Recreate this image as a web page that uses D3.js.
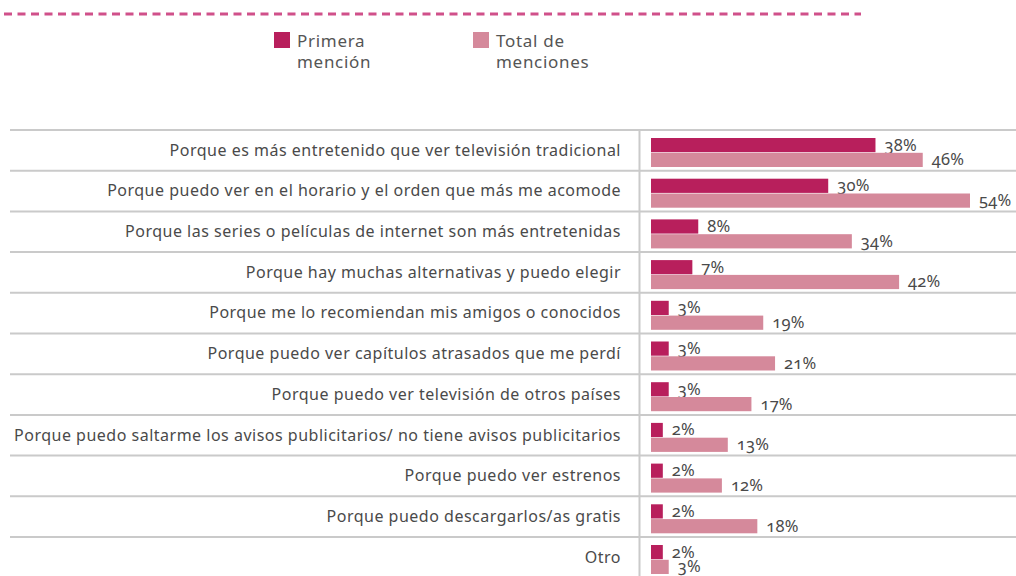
<!DOCTYPE html>
<html><head><meta charset="utf-8">
<script src="https://cdn.jsdelivr.net/npm/d3@7"></script>
<style>body{margin:0;background:#fff;}svg{display:block;}</style>
</head><body>
<script>
const categories = [
  "Porque es más entretenido que ver televisión tradicional",
  "Porque puedo ver en el horario y el orden que más me acomode",
  "Porque las series o películas de internet son más entretenidas",
  "Porque hay muchas alternativas y puedo elegir",
  "Porque me lo recomiendan mis amigos o conocidos",
  "Porque puedo ver capítulos atrasados que me perdí",
  "Porque puedo ver televisión de otros países",
  "Porque puedo saltarme los avisos publicitarios/ no tiene avisos publicitarios",
  "Porque puedo ver estrenos",
  "Porque puedo descargarlos/as gratis",
  "Otro"
];
const primeraMencion = [38, 30, 8, 7, 3, 3, 3, 2, 2, 2, 2];
const totalMenciones = [46, 54, 34, 42, 19, 21, 17, 13, 12, 18, 3];
const seriesNames = ["Primera mención", "Total de menciones"];
const legendLines = [["Primera", "mención"], ["Total de", "menciones"]];

const W = 1016, H = 576;
const colors = ["#b81f5c", "#d5899b"];
const svg = d3.select("body").append("svg").attr("width", W).attr("height", H);

// dashed top line
svg.append("line").attr("x1", 4).attr("x2", 861).attr("y1", 14).attr("y2", 14)
  .attr("stroke", "#d0508a").attr("stroke-width", 3).attr("stroke-dasharray", "8,5.5");

// legend
const legX = [274, 473];
seriesNames.forEach((s, i) => {
  const g = svg.append("g").attr("transform", `translate(${legX[i]},32)`);
  g.append("rect").attr("width", 16).attr("height", 16).attr("fill", colors[i]);
  const t = g.append("text").attr("x", 23).attr("y", 15)
    .attr("font-family", "Noto Sans").attr("font-size", 17).attr("letter-spacing", 0.7).attr("fill", "#555");
  legendLines[i].forEach((l, j) => t.append("tspan").attr("x", 23).attr("dy", j === 0 ? 0 : 21).text(l));
});

const y = d3.scaleBand().domain(categories).range([130, 577.7]);
const x = d3.scaleLinear().domain([0, 54]).range([651, 970]);
const inner = d3.scaleBand().domain(seriesNames).range([8, 37]).paddingInner(0.04);

// grid lines
const grid = svg.append("g").attr("stroke", "#cacaca").attr("stroke-width", 2);
categories.forEach(c => {
  grid.append("line").attr("x1", 10).attr("x2", W).attr("y1", y(c)).attr("y2", y(c));
});
grid.append("line").attr("x1", 639.5).attr("x2", 639.5).attr("y1", 130).attr("y2", H);

// category labels
svg.append("g").selectAll("text").data(categories).join("text")
  .attr("x", 621).attr("y", d => y(d) + y.bandwidth() / 2 + 1)
  .attr("text-anchor", "end").attr("dominant-baseline", "middle")
  .attr("font-family", "Noto Sans").attr("font-size", 16).attr("letter-spacing", 0.5).attr("fill", "#4a4a4a")
  .text(d => d);

const rows = categories.map((c, i) => ({ c, vals: [primeraMencion[i], totalMenciones[i]] }));
const rg = svg.append("g").selectAll("g").data(rows).join("g")
  .attr("transform", d => `translate(0,${y(d.c)})`);
seriesNames.forEach((s, si) => {
  rg.append("rect").attr("x", x(0)).attr("y", inner(s))
    .attr("width", d => x(d.vals[si]) - x(0)).attr("height", inner.bandwidth())
    .attr("fill", colors[si]);
  rg.append("text").attr("x", d => x(d.vals[si]) + 9)
    .attr("y", inner(s) + inner.bandwidth() / 2 + 1)
    .attr("dominant-baseline", "middle")
    .style("font-variant-numeric", "oldstyle-nums")
    .attr("font-family", "Noto Sans").attr("font-size", 16.5).attr("letter-spacing", 0.2).attr("fill", "#4a4a4a")
    .text(d => d.vals[si] + "%");
});
</script>
</body></html>
